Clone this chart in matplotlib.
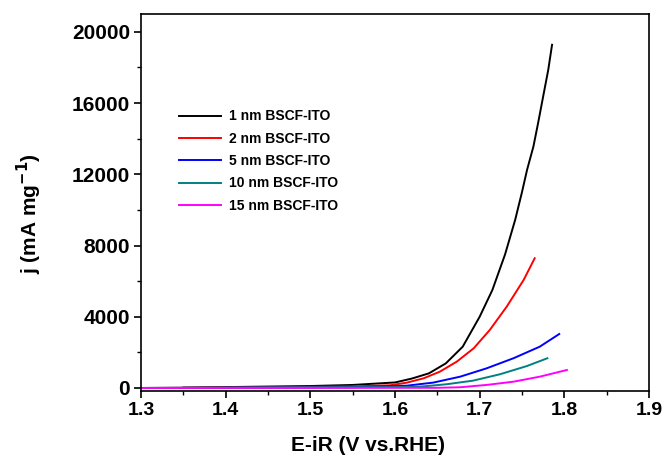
import matplotlib.pyplot as plt
from matplotlib.ticker import MultipleLocator

plt.rcParams['font.family'] = ['Liberation Sans', 'DejaVu Sans']
plt.rcParams['font.weight'] = 'bold'
plt.rcParams['mathtext.default'] = 'bf'

# datos (potencial vs densidad de corriente)
v_1nm = [1.35, 1.40, 1.50, 1.55, 1.60, 1.62, 1.64, 1.66, 1.68, 1.70, 1.715, 1.730, 1.742, 1.750,
         1.756, 1.7635, 1.769, 1.775, 1.781, 1.7855]
j_1nm = [20, 50, 110, 170, 310, 530, 820, 1380, 2320, 4000, 5500, 7500, 9450, 11000,
         12250, 13560, 14870, 16370, 17860, 19270]

v_2nm = [1.30, 1.45, 1.55, 1.594, 1.614, 1.634, 1.653, 1.673, 1.693, 1.712, 1.732, 1.752, 1.765]
j_2nm = [0, 40, 90, 150, 300, 545, 916, 1480, 2230, 3260, 4570, 6070, 7285]

v_5nm = [1.30, 1.55, 1.614, 1.645, 1.677, 1.708, 1.740, 1.771, 1.794]
j_5nm = [0, 40, 130, 300, 635, 1100, 1670, 2320, 3030]

v_10nm = [1.30, 1.60, 1.63, 1.661, 1.692, 1.724, 1.756, 1.780]
j_10nm = [0, 50, 75, 210, 410, 770, 1235, 1670]

v_15nm = [1.30, 1.65, 1.677, 1.708, 1.740, 1.771, 1.803]
j_15nm = [0, 10, 40, 170, 354, 635, 1010]

etiquetas = ['1 nm BSCF-ITO', '2 nm BSCF-ITO', '5 nm BSCF-ITO', '10 nm BSCF-ITO', '15 nm BSCF-ITO']
colores = ['black', '#ff0000', '#0000ff', '#008080', '#ff00ff']

fig = plt.figure(figsize=(6.67, 4.63), dpi=100)
ax = fig.add_axes([0.2114, 0.1555, 0.7616, 0.8143])

series = [(v_1nm, j_1nm), (v_2nm, j_2nm), (v_5nm, j_5nm), (v_10nm, j_10nm), (v_15nm, j_15nm)]
for (v, j), lab, col in zip(series, etiquetas, colores):
    ax.plot(v, j, color=col, lw=1.4, label=lab)

ax.set_xlim(1.3, 1.9)
ax.set_ylim(-170, 21000)
ax.xaxis.set_major_locator(MultipleLocator(0.1))
ax.xaxis.set_minor_locator(MultipleLocator(0.05))
ax.yaxis.set_major_locator(MultipleLocator(4000))
ax.yaxis.set_minor_locator(MultipleLocator(2000))
ax.tick_params(which='major', direction='out', length=5, width=1.2, labelsize=14, pad=3)
ax.tick_params(axis='y', which='major', labelsize=15)
ax.tick_params(which='minor', direction='out', length=3, width=1.0)
for s in ax.spines.values():
    s.set_linewidth(1.2)

ax.set_xlabel('E-iR (V vs.RHE)', fontsize=15, fontweight='bold')
ax.xaxis.set_label_coords(0.447, -0.12)
ax.set_ylabel('j (mA mg$^{\\mathsf{-1}}$)', fontsize=15, fontweight='bold')
ax.yaxis.set_label_coords(-0.19, 0.47)

ax.legend(loc='upper left', bbox_to_anchor=(0.05, 0.78), frameon=False,
          handlelength=3.0, handletextpad=0.6, labelspacing=0.6, prop={'weight': 'bold', 'size': 10})

fig.savefig('out.png', dpi=100)
